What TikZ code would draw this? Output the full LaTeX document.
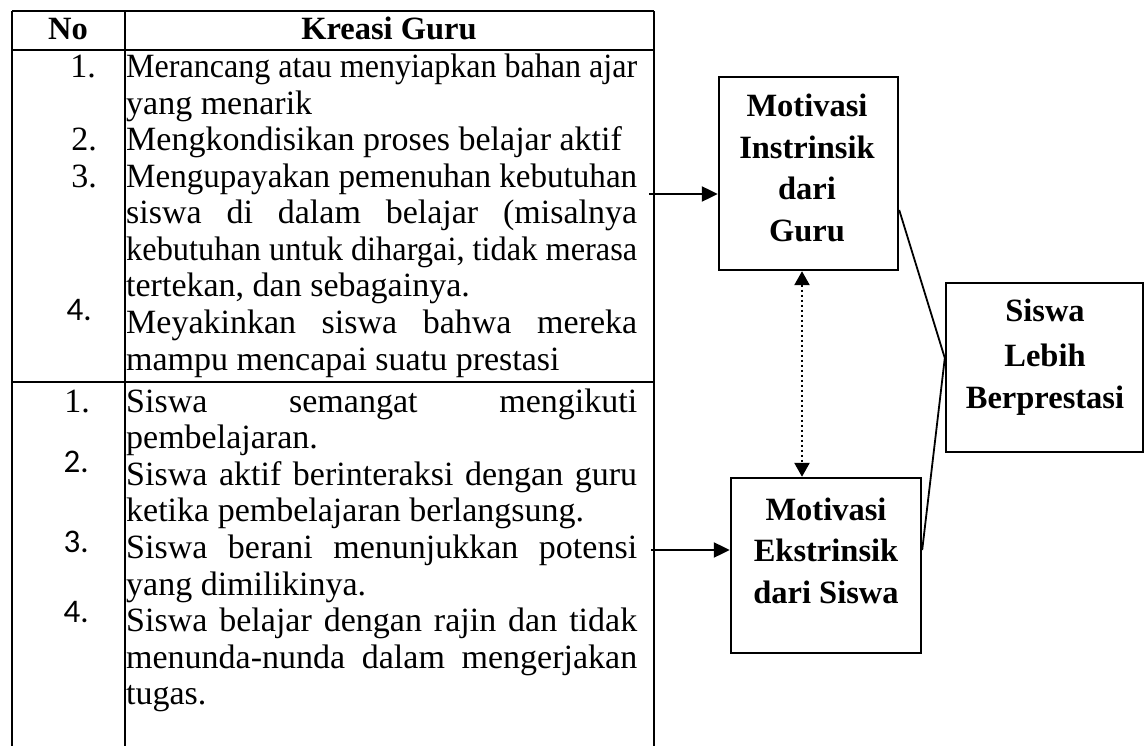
\documentclass[tikz,border=0pt]{standalone}
\usepackage{graphicx}
\usepackage{fontspec}
\setmainfont{Liberation Serif}
\newfontfamily\numsans{Carlito}
\usetikzlibrary{arrows.meta}
\newsavebox\jlinebox
\newcommand{\jline}[1]{\sbox\jlinebox{#1}\ifdim\wd\jlinebox>511pt\resizebox{511pt}{\height}{\usebox\jlinebox}\else\makebox[511pt][s]{#1}\fi}
\begin{document}
\begin{tikzpicture}[x=1pt,y=-1pt,
  body/.style={anchor=base west, inner sep=0pt, font=\fontsize{34}{38}\selectfont},
  num/.style={anchor=base east, inner sep=0pt, font=\fontsize{34}{38}\selectfont},
  numsf/.style={anchor=base east, inner sep=0pt, font=\fontsize{33}{38}\numsans},
  bold/.style={anchor=base, inner sep=0pt, font=\fontsize{32.5}{38}\selectfont\bfseries},
  tbl/.style={line width=2.4pt},
  boxs/.style={draw, line width=2.4pt, inner sep=0pt},
  arr/.style={line width=2.2pt, -{Triangle[length=16pt,width=15pt]}},
  dotarr/.style={line width=2.5pt, dash pattern=on 2.5pt off 2.5pt, {Triangle[length=14pt,width=15pt]}-{Triangle[length=14pt,width=15pt]}},
  link/.style={line width=1.8pt}]
\useasboundingbox (0,0) rectangle (1144,746);
% table
\draw[tbl] (12,11) -- (654,11);
\draw[tbl] (12,50) -- (654,50);
\draw[tbl] (12,382) -- (654,382);
\draw[tbl] (12,11) -- (12,746);
\draw[tbl] (125,11) -- (125,746);
\draw[tbl] (654,11) -- (654,746);
% header
\node[bold] (hno) at (68,40) {No};
\node[bold] (hkg) at (389,40) {Kreasi Guru};
% section 1 numbers
\node[num] (n11) at (96,78) {1.};
\node[num] (n12) at (97,151) {2.};
\node[num] (n13) at (97,187.5) {3.};
\node[numsf] (n14) at (92,320) {4.};
% section 1 text
\node[body] (t11) at (126,78) {\jline{Merancang atau menyiapkan bahan ajar}};
\node[body] (t12) at (126,114.5) {yang menarik};
\node[body] (t13) at (126,151) {Mengkondisikan proses belajar aktif};
\node[body] (t14) at (126,187.5) {\jline{Mengupayakan pemenuhan kebutuhan}};
\node[body] (t15) at (126,224) {\jline{siswa di dalam belajar (misalnya}};
\node[body] (t16) at (126,260.5) {\jline{kebutuhan untuk dihargai, tidak merasa}};
\node[body] (t17) at (126,297) {tertekan, dan sebagainya.};
\node[body] (t18) at (126,333.5) {\jline{Meyakinkan siswa bahwa mereka}};
\node[body] (t19) at (126,370) {mampu mencapai suatu prestasi};
% section 2 numbers
\node[num] (n21) at (90,412) {1.};
\node[numsf] (n22) at (89,472) {2.};
\node[numsf] (n23) at (89,552) {3.};
\node[numsf] (n24) at (89,622) {4.};
% section 2 text
\node[body] (t21) at (126,412) {\jline{Siswa semangat mengikuti}};
\node[body] (t22) at (126,448.6) {pembelajaran.};
\node[body] (t23) at (126,485.2) {\jline{Siswa aktif berinteraksi dengan guru}};
\node[body] (t24) at (126,521.8) {ketika pembelajaran berlangsung.};
\node[body] (t25) at (126,558.4) {\jline{Siswa berani menunjukkan potensi}};
\node[body] (t26) at (126,595) {yang dimilikinya.};
\node[body] (t27) at (126,631.6) {\jline{Siswa belajar dengan rajin dan tidak}};
\node[body] (t28) at (126,668.2) {\jline{menunda-nunda dalam mengerjakan}};
\node[body] (t29) at (126,704.8) {tugas.};
% boxes
\node[boxs, minimum width=179pt, minimum height=193pt] (up) at (808.5,173.5) {};
\node[boxs, minimum width=190pt, minimum height=175pt] (lo) at (826,565.5) {};
\node[boxs, minimum width=197pt, minimum height=169pt] (res) at (1044.5,367.5) {};
% box texts
\node[bold] (u1) at (807,116.7) {Motivasi};
\node[bold] (u2) at (807,158.4) {Instrinsik};
\node[bold] (u3) at (807,200) {dari};
\node[bold] (u4) at (807,241.7) {Guru};
\node[bold] (l1) at (826,520) {Motivasi};
\node[bold] (l2) at (826,561.7) {Ekstrinsik};
\node[bold] (l3) at (826,603) {dari Siswa};
\node[bold] (r1) at (1045,321.7) {Siswa};
\node[bold] (r2) at (1045,366.7) {Lebih};
\node[bold] (r3) at (1045,408) {Berprestasi};
% connectors
\coordinate (a1) at (649,194);
\coordinate (a2) at (651,550);
\coordinate (dx) at (802,0);
\coordinate (j1) at (0,210);
\coordinate (j2) at (0,358);
\coordinate (j3) at (0,550);
\draw[arr] (a1) -- (up.west |- a1);
\draw[arr] (a2) -- (lo.west |- a2);
\draw[dotarr] (up.south -| dx) -- (lo.north -| dx);
\draw[link] (up.east |- j1) -- (res.west |- j2) -- (lo.east |- j3);
\end{tikzpicture}
\end{document}
